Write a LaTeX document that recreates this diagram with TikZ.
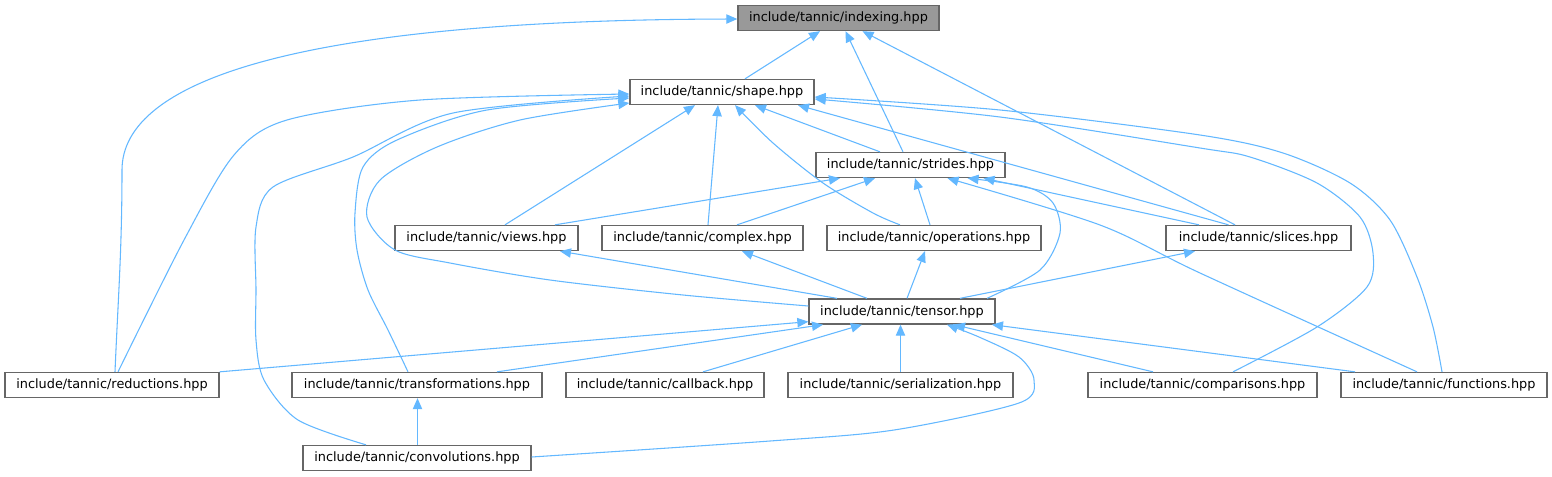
\documentclass[tikz,border=0pt]{standalone}
\usepackage{fontspec}
\setmainfont{DejaVu Sans}
\usetikzlibrary{arrows.meta,calc}
\definecolor{edgeblue}{HTML}{63B8FF}
\definecolor{boxgray}{HTML}{666666}
\definecolor{rootfill}{HTML}{999999}
\begin{document}
\begin{tikzpicture}[x=0.75pt,y=-0.75pt,
  file/.style={draw=boxgray, fill=white, line width=1pt, minimum height=18.75pt,
    inner sep=0pt, font=\fontsize{9.65pt}{11pt}\selectfont},
  root/.style={file, fill=rootfill},
  dep/.style={draw=edgeblue, line width=0.8pt, -{Triangle[length=8.25pt,width=7pt]}},
]
\useasboundingbox (0,0) rectangle (1552,476);
\fill[white] (0,0) rectangle (1552,476);

% nodes
\node[root, minimum width=150.75pt] (indexing) at (838.5,18) {include/tannic/indexing.hpp};
\node[file, minimum width=138pt] (shape) at (722,92) {include/tannic/shape.hpp};
\node[file, minimum width=141.75pt] (strides) at (910.5,165) {include/tannic/strides.hpp};
\node[file, minimum width=137.25pt] (views) at (486.5,238) {include/tannic/views.hpp};
\node[file, minimum width=150.75pt] (complex) at (702.5,238) {include/tannic/complex.hpp};
\node[file, minimum width=160.5pt] (operations) at (934,238) {include/tannic/operations.hpp};
\node[file, minimum width=138.75pt] (slices) at (1258.5,238) {include/tannic/slices.hpp};
\node[file, minimum width=139.5pt] (tensor) at (902,311.5) {include/tannic/tensor.hpp};
\node[file, minimum width=160.5pt] (reductions) at (112,385) {include/tannic/reductions.hpp};
\node[file, minimum width=187.5pt] (transformations) at (417,385) {include/tannic/transformations.hpp};
\node[file, minimum width=148.5pt] (callback) at (665,385) {include/tannic/callback.hpp};
\node[file, minimum width=168.75pt] (serialization) at (900.5,385) {include/tannic/serialization.hpp};
\node[file, minimum width=171.75pt] (comparisons) at (1202.5,385) {include/tannic/comparisons.hpp};
\node[file, minimum width=154.5pt] (functions) at (1444,385) {include/tannic/functions.hpp};
\node[file, minimum width=171pt] (convolutions) at (417,458) {include/tannic/convolutions.hpp};

% endpoint coordinates for curved connectors
\coordinate (redI) at ($(reductions.north)+(3,0)$);
\coordinate (indW) at ($(indexing.west)+(0,1)$);
\coordinate (opS) at ($(operations.north)+(-34,0)$);
\coordinate (shS13) at ($(shape.south)+(13,0)$);
\coordinate (redS) at ($(reductions.north)+(6,0)$);
\coordinate (shW1) at ($(shape.west)+(0,2)$);
\coordinate (convS) at ($(convolutions.north)+(-51,0)$);
\coordinate (shW2) at ($(shape.west)+(0,4)$);
\coordinate (trS) at ($(transformations.north)+(-9,0)$);
\coordinate (shW3) at ($(shape.west)+(0,6)$);
\coordinate (tenS) at ($(tensor.west)+(0,-5.5)$);
\coordinate (shW4) at ($(shape.west)+(0,11)$);
\coordinate (cmpS) at ($(comparisons.north)+(30.5,0)$);
\coordinate (shE1) at ($(shape.east)+(0,7)$);
\coordinate (fnS) at ($(functions.north)+(-2,0)$);
\coordinate (shE2) at ($(shape.east)+(0,5)$);
\coordinate (tenSt) at ($(tensor.north)+(85,0)$);
\coordinate (stT) at ($(strides.south)+(57,0)$);
\coordinate (fnSt) at ($(functions.north)+(-27,0)$);
\coordinate (stF) at ($(strides.south)+(37,0)$);
\coordinate (convT) at ($(convolutions.east)+(0,-1)$);
\coordinate (tenC) at ($(tensor.south)+(45,0)$);

% into indexing
\draw[dep] (redI) .. controls (118,300) and (122,250) .. (122,170)
  .. controls (122,80) and (300,20) .. (indW);
\draw[dep] ($(shape.north)+(23,0)$) -- ($(indexing.south)+(-18.5,0)$);
\draw[dep] ($(strides.north)+(-7.5,0)$) -- ($(indexing.south)+(7,0)$);
\draw[dep] ($(slices.north)+(-23.5,0)$) -- ($(indexing.south)+(24,0)$);

% into shape
\draw[dep] ($(views.north)+(18.5,0)$) -- ($(shape.south)+(-27,0)$);
\draw[dep] ($(complex.north)+(5.5,0)$) -- ($(shape.south)+(-4,0)$);
\draw[dep] plot[smooth] coordinates {(opS) (873,213) (823,183) (773,143) (shS13)};
\draw[dep] ($(strides.north)+(-30.5,0)$) -- ($(shape.south)+(33,0)$);
\draw[dep] ($(slices.north)+(-30,0)$) -- ($(shape.south)+(76,0)$);
\draw[dep] plot[smooth] coordinates {(redS) (184,240) (234,155) (287,120) (420,100) (shW1)};
\draw[dep] plot[smooth] coordinates {(convS) (298,420) (264,380) (256,340) (256,290) (256,227) (273,187) (353,157) (453,113) (shW2)};
\draw[dep] plot[smooth] coordinates {(trS) (388,330) (368,290) (357,250) (355,213) (363,167) (397,140) (487,110) (shW3)};
\draw[dep] plot[smooth] coordinates {(tenS) (683,295) (550,280) (450,263) (395,250) (367,217) (380,180) (437,147) (520,120) (shW4)};
\draw[dep] plot[smooth] coordinates {(cmpS) (1317,327) (1367,287) (1373,253) (1360,217) (1317,183) (1250,157) (1200,148) (1000,117) (shE1)};
\draw[dep] plot[smooth] coordinates {(fnS) (1433,327) (1417,277) (1390,220) (1350,183) (1283,153) (1200,135) (1000,110) (shE2)};

% into strides
\draw[dep] ($(views.north)+(68.5,0)$) -- ($(strides.south)+(-70.5,0)$);
\draw[dep] ($(complex.north)+(34.5,0)$) -- ($(strides.south)+(-35.5,0)$);
\draw[dep] ($(operations.north)+(-4,0)$) -- ($(strides.south)+(4.5,0)$);
\draw[dep] ($(slices.north)+(-59.5,0)$) -- ($(strides.south)+(73,0)$);
\draw[dep] plot[smooth] coordinates {(tenSt) (1040,270) (1060,233) (1053,203) (1027,187) (stT)};
\draw[dep] plot[smooth] coordinates {(fnSt) (1200,273) (1100,225) (stF)};

% from tensor up to the middle row
\draw[dep] ($(tensor.north)+(-65,0)$) -- ($(views.south)+(73.5,0)$);
\draw[dep] ($(tensor.north)+(-35,0)$) -- ($(complex.south)+(39.5,0)$);
\draw[dep] ($(tensor.north)+(5,0)$) -- ($(operations.south)+(-9,0)$);
\draw[dep] ($(tensor.north)+(58,0)$) -- ($(slices.south)+(-63.5,0)$);

% into tensor
\draw[dep] (reductions.north east) -- ($(tensor.south west)+(0,-3)$);
\draw[dep] ($(transformations.north)+(80,0)$) -- ($(tensor.south)+(-79,0)$);
\draw[dep] ($(callback.north)+(38,0)$) -- ($(tensor.south)+(-40,0)$);
\draw[dep] (serialization.north) -- ($(tensor.south)+(-1.5,0)$);
\draw[dep] ($(comparisons.north)+(-49.5,0)$) -- ($(tensor.south)+(52,0)$);
\draw[dep] ($(functions.north)+(-89,0)$) -- ($(tensor.south)+(90,0)$);
\draw[dep] plot[smooth] coordinates {(convT) (770,441) (894,430) (1019,403) (1034,380) (1019,357) (979,337) (tenC)};

% into transformations
\draw[dep] ($(convolutions.north)+(0.5,0)$) -- ($(transformations.south)+(0.5,0)$);
\end{tikzpicture}
\end{document}
